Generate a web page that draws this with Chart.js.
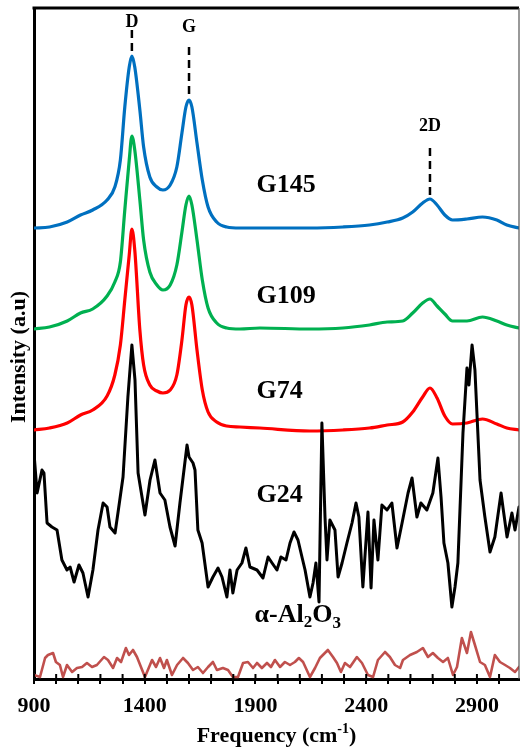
<!DOCTYPE html>
<html lang="en">
<head>
<meta charset="UTF-8">
<title>Raman spectra</title>
<script src="https://cdn.jsdelivr.net/npm/chart.js"></script>
<style>
  html, body { margin: 0; padding: 0; background: #fff; }
  #chart { display: block; }
</style>
</head>
<body>
<canvas id="chart" width="520" height="749"></canvas>
<script>
// wavenumber grid (cm-1) shared by the three graphene spectra
const smoothFreq = [900, 970, 1050, 1110, 1165, 1230, 1265, 1290, 1310, 1330, 1342, 1355, 1378, 1395, 1423, 1455, 1482, 1515, 1545, 1568,
  1586, 1600, 1613, 1636, 1660, 1686, 1725, 1770, 1830, 1920, 2145, 2295, 2415, 2495, 2565, 2610, 2655, 2688, 2720, 2755,
  2790, 2855, 2925, 2990, 3035, 3090];
const g145 = [451, 452, 457, 464, 469, 479, 492, 519, 572, 612, 623, 612, 569, 532, 502, 492, 489, 494, 512, 546,
  572, 579, 572, 536, 499, 472, 457, 452, 451, 451, 451, 452, 454, 457, 461, 467, 476, 480, 474, 464,
  459, 460, 462, 459, 454, 451];
const g109 = [350, 352, 358, 366, 370, 383, 397, 417, 469, 519, 543, 529, 479, 439, 407, 394, 389, 394, 414, 447,
  474, 483, 474, 439, 399, 371, 356, 351, 350, 351, 350, 351, 354, 357, 358, 366, 376, 380, 373, 365,
  358, 358, 362, 358, 354, 351];
const g74 = [249, 251, 256, 264, 269, 283, 304, 334, 379, 424, 450, 429, 349, 314, 294, 288, 286, 289, 304, 339,
  374, 382, 374, 329, 289, 267, 257, 253, 252, 251, 248, 249, 251, 254, 257, 267, 282, 291, 281, 263,
  255, 256, 260, 255, 251, 249];

// G24 (noisy)
const g24Freq = [900, 914, 936, 945, 959, 981, 1004, 1026, 1049, 1063, 1081, 1103, 1121, 1144, 1166, 1189, 1212, 1230, 1243, 1266,
  1279, 1302, 1324, 1342, 1356, 1370, 1401, 1424, 1446, 1469, 1491, 1514, 1537, 1559, 1591, 1600, 1618, 1627, 1640, 1659,
  1686, 1708, 1731, 1749, 1771, 1785, 1798, 1817, 1839, 1857, 1875, 1907, 1934, 1957, 1975, 1997, 2015, 2038, 2056, 2074,
  2092, 2110, 2124, 2146, 2160, 2173, 2187, 2200, 2214, 2223, 2236, 2259, 2273, 2291, 2313, 2336, 2354, 2367, 2385, 2408,
  2422, 2435, 2453, 2471, 2494, 2516, 2539, 2562, 2589, 2607, 2629, 2647, 2674, 2701, 2724, 2738, 2751, 2769, 2787, 2801,
  2814, 2837, 2855, 2864, 2878, 2891, 2914, 2936, 2959, 2981, 3009, 3018, 3036, 3058, 3072, 3090];
const g24 = [226, 186, 209, 206, 156, 152, 149, 119, 109, 112, 97, 114, 106, 82, 109, 149, 176, 172, 152, 146,
  166, 202, 282, 334, 299, 206, 164, 199, 219, 186, 179, 152, 133, 176, 234, 222, 216, 209, 149, 136,
  92, 102, 111, 102, 82, 109, 86, 109, 116, 131, 112, 109, 101, 122, 116, 109, 122, 119, 136, 147,
  139, 122, 109, 82, 96, 116, 77, 256, 162, 119, 159, 149, 102, 116, 136, 156, 176, 162, 92, 167,
  91, 159, 119, 174, 169, 176, 131, 156, 186, 201, 162, 176, 169, 186, 221, 182, 136, 116, 72, 92,
  116, 246, 311, 294, 334, 309, 199, 162, 127, 142, 186, 171, 142, 166, 149, 172];

// alpha-Al2O3 substrate
const aluminaFreq = [900, 927, 950, 963, 986, 999, 1017, 1031, 1049, 1072, 1094, 1117, 1139, 1162, 1184, 1216, 1234, 1257, 1275, 1293,
  1315, 1329, 1347, 1365, 1401, 1433, 1451, 1469, 1487, 1500, 1523, 1546, 1573, 1595, 1618, 1640, 1663, 1686, 1708, 1726,
  1753, 1776, 1798, 1821, 1844, 1866, 1889, 1907, 1929, 1952, 1970, 1988, 2011, 2033, 2056, 2078, 2096, 2115, 2146, 2169,
  2191, 2227, 2250, 2268, 2286, 2304, 2327, 2358, 2381, 2408, 2431, 2453, 2485, 2507, 2530, 2553, 2566, 2598, 2629, 2656,
  2679, 2701, 2724, 2747, 2769, 2792, 2810, 2832, 2855, 2873, 2891, 2914, 2936, 2959, 2981, 3004, 3027, 3049, 3072, 3090];
const alumina = [4, 2, 21, 24, 26, 17, 14, 2, 14, 7, 11, 12, 16, 12, 14, 22, 19, 11, 21, 17,
  31, 24, 29, 22, 2, 19, 12, 21, 11, 19, 4, 14, 21, 16, 9, 12, 6, 12, 17, 9,
  11, 9, 2, 2, 16, 17, 11, 16, 11, 16, 12, 19, 12, 17, 14, 17, 21, 17, 2, 11,
  21, 29, 22, 16, 7, 16, 12, 22, 16, 4, 2, 19, 27, 22, 14, 11, 19, 24, 27, 31,
  22, 26, 21, 17, 21, 4, 12, 41, 26, 47, 34, 17, 14, 2, 24, 17, 14, 11, 7, 12];

// axis ticks: a mark every 100 cm-1, a label every 500
const xTickMarks = [900, 1000, 1100, 1200, 1300, 1400, 1500, 1600, 1700, 1800, 1900, 2000,
  2100, 2200, 2300, 2400, 2500, 2600, 2700, 2800, 2900, 3000];
const xLabelTicks = [900, 1400, 1900, 2400, 2900];
const peakNames = ['D', 'G', '2D'];
const peakFreq = [1342, 1600, 2688];
const sampleNames = ['G145', 'G109', 'G74', 'G24'];

const toPoints = (xs, ys) => xs.map((x, i) => ({ x: x, y: ys[i] }));
const SERIF = '"Liberation Serif", "Times New Roman", serif';

const decorations = {
  id: 'decorations',
  afterDraw(chart) {
    const { ctx, chartArea: a, scales: { x, y } } = chart;
    ctx.save();

    // top + right frame
    ctx.strokeStyle = '#000';
    ctx.lineWidth = 3;
    ctx.beginPath();
    ctx.moveTo(a.left - 1.5, a.top);
    ctx.lineTo(a.right, a.top);
    ctx.stroke();
    ctx.strokeStyle = '#555';
    ctx.lineWidth = 1.2;
    ctx.beginPath();
    ctx.moveTo(a.right, a.top);
    ctx.lineTo(a.right, a.bottom);
    ctx.stroke();

    // inner half of the tick marks
    ctx.strokeStyle = '#000';
    ctx.lineWidth = 2;
    xTickMarks.forEach(v => {
      const px = x.getPixelForValue(v);
      ctx.beginPath();
      ctx.moveTo(px, a.bottom - 5);
      ctx.lineTo(px, a.bottom);
      ctx.stroke();
    });

    // peak markers
    const lineTop = [649, 632, 531];
    const lineBottom = [627, 582, 481];
    const textY = [652, 647, 548];
    ctx.setLineDash([8, 5]);
    ctx.lineWidth = 2.5;
    peakFreq.forEach((f, i) => {
      const px = x.getPixelForValue(f);
      ctx.beginPath();
      ctx.moveTo(px, y.getPixelForValue(lineTop[i]));
      ctx.lineTo(px, y.getPixelForValue(lineBottom[i]));
      ctx.stroke();
    });
    ctx.setLineDash([]);
    ctx.fillStyle = '#000';
    ctx.font = 'bold 18px ' + SERIF;
    ctx.textAlign = 'center';
    ctx.textBaseline = 'alphabetic';
    peakNames.forEach((n, i) => {
      ctx.fillText(n, x.getPixelForValue(peakFreq[i]), y.getPixelForValue(textY[i]));
    });

    // sample names
    const nameY = [487, 376, 281, 177];
    ctx.font = 'bold 26px ' + SERIF;
    ctx.textAlign = 'left';
    const nx = x.getPixelForValue(1905);
    sampleNames.forEach((n, i) => ctx.fillText(n, nx, y.getPixelForValue(nameY[i])));

    // alpha-Al2O3 with subscripts
    let cx = nx - 2;
    const by = y.getPixelForValue(57);
    const parts = [['\u03b1-Al', 0, 26], ['2', 5, 17], ['O', 0, 26], ['3', 6, 17]];
    parts.forEach(([s, dy, size]) => {
      ctx.font = 'bold ' + size + 'px ' + SERIF;
      ctx.fillText(s, cx, by + dy);
      cx += ctx.measureText(s).width;
    });

    // axis titles
    const t1 = 'Frequency (cm';
    const t2 = '-1';
    const t3 = ')';
    ctx.font = 'bold 22px ' + SERIF;
    const w1 = ctx.measureText(t1).width;
    const w3 = ctx.measureText(t3).width;
    ctx.font = 'bold 14px ' + SERIF;
    const w2 = ctx.measureText(t2).width;
    let tx = (a.left + a.right) / 2 - (w1 + w2 + w3) / 2;
    const ty = 742;
    ctx.font = 'bold 22px ' + SERIF;
    ctx.fillText(t1, tx, ty);
    tx += w1;
    ctx.font = 'bold 14px ' + SERIF;
    ctx.fillText(t2, tx, ty - 9);
    tx += w2;
    ctx.font = 'bold 22px ' + SERIF;
    ctx.fillText(t3, tx, ty);

    ctx.translate(19, 357);
    ctx.rotate(-Math.PI / 2);
    ctx.textAlign = 'center';
    ctx.textBaseline = 'middle';
    ctx.fillText('Intensity (a.u)', 0, 0);
    ctx.restore();
  }
};

const line = (data, color, width, smooth) => ({
  data: data,
  borderColor: color,
  borderWidth: width,
  pointRadius: 0,
  fill: false,
  tension: smooth ? 0.4 : 0,
  cubicInterpolationMode: smooth ? 'monotone' : 'default',
  borderJoinStyle: 'round',
  borderCapStyle: 'round'
});

new Chart(document.getElementById('chart'), {
  type: 'line',
  data: {
    datasets: [
      line(toPoints(g24Freq, g24), '#000000', 3, false),
      line(toPoints(smoothFreq, g74), '#FF0000', 3.2, true),
      line(toPoints(smoothFreq, g109), '#00B050', 3.2, true),
      line(toPoints(smoothFreq, g145), '#0070C0', 3.2, true),
      line(toPoints(aluminaFreq, alumina), '#C0504D', 2.6, false)
    ]
  },
  options: {
    responsive: false,
    animation: false,
    layout: { padding: { top: 8, right: 1, left: 0, bottom: 0 } },
    plugins: { legend: { display: false }, tooltip: { enabled: false } },
    scales: {
      x: {
        type: 'linear',
        min: 900,
        max: 3090,
        afterBuildTicks: s => { s.ticks = xTickMarks.map(v => ({ value: v })); },
        afterFit: s => { s.height = 70; s.paddingLeft = 0; s.paddingRight = 0; },
        border: { display: true, color: '#000', width: 3 },
        grid: { display: true, drawOnChartArea: false, drawTicks: true, tickLength: 5, color: '#000', lineWidth: 2 },
        ticks: {
          autoSkip: false,
          maxRotation: 0,
          padding: 9,
          color: '#000',
          font: { family: SERIF, size: 22, weight: 'bold' },
          callback: v => xLabelTicks.includes(v) ? String(v) : ''
        }
      },
      y: {
        type: 'linear',
        min: 0,
        max: 671,
        afterFit: s => { s.width = 34; },
        border: { display: true, color: '#000', width: 3 },
        grid: { display: false, drawTicks: false },
        ticks: { display: false }
      }
    }
  },
  plugins: [decorations]
});
</script>
</body>
</html>
